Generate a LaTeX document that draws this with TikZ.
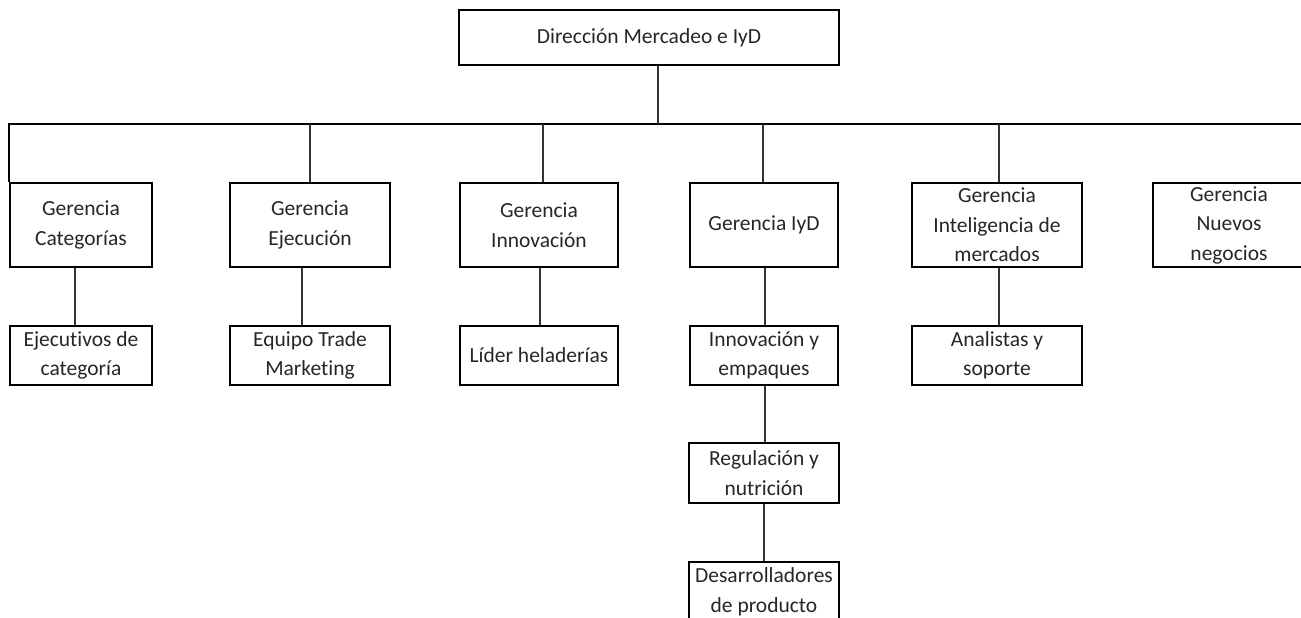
\documentclass[tikz,border=0pt]{standalone}
\usepackage{fontspec}
\setmainfont{Carlito}[Ligatures={NoCommon}]
\begin{document}
\begin{tikzpicture}[x=1pt,y=-1pt,
  box/.style={draw=black, line width=2.2pt, rectangle, inner sep=0pt, align=center,
              font=\fontsize{21.5}{29.5}\selectfont, text=black!85},
  conn/.style={line width=1.4pt, draw=black!80},
  bus/.style={line width=2.8pt, draw=black}]
\useasboundingbox (0,0) rectangle (1301,618);
\clip (0,0) rectangle (1301,618);

% top
\node[box, minimum width=380pt, minimum height=55pt] (top) at (649,37.5) {Direcci\'on Mercadeo e IyD};

% level 1
\node[box, minimum width=142pt, minimum height=84pt] (g1) at (81,225) {Gerencia\\Categor\'ias};
\node[box, minimum width=160pt, minimum height=84pt] (g2) at (310,225) {Gerencia\\Ejecuci\'on};
\node[box, minimum width=158pt, minimum height=84pt] (g3) at (539,225) {Gerencia\\Innovaci\'on};
\node[box, minimum width=148pt, minimum height=84pt] (g4) at (764,225) {Gerencia IyD};
\node[box, minimum width=170pt, minimum height=84pt] (g5) at (997,225) {Gerencia\\Inteligencia de\\mercados};
\node[box, minimum width=152pt, minimum height=84pt] (g6) at (1229,225) {Gerencia\\Nuevos\\negocios};

% level 2
\node[box, minimum width=142pt, minimum height=59pt] (e1) at (81,355.5) {Ejecutivos de\\categor\'ia};
\node[box, minimum width=160pt, minimum height=59pt] (e2) at (310,355.5) {Equipo Trade\\Marketing};
\node[box, minimum width=158pt, minimum height=59pt] (e3) at (539,355.5) {L\'ider helader\'ias};
\node[box, minimum width=148pt, minimum height=59pt] (e4) at (764,355.5) {Innovaci\'on y\\empaques};
\node[box, minimum width=170pt, minimum height=59pt] (e5) at (997,355.5) {Analistas y\\soporte};

% level 3 and 4
\node[box, minimum width=150pt, minimum height=60pt] (r4) at (764,473) {Regulaci\'on y\\nutrici\'on};
\node[box, minimum width=150pt, minimum height=60pt] (d4) at (764,592) {Desarrolladores\\de producto};

% bus
\coordinate (busR) at (1312,124);
\coordinate (j0) at (658,124);
\coordinate (j2) at (310,124);
\coordinate (j3) at (543,124);
\coordinate (j4) at (763,124);
\coordinate (j5) at (999,124);

\draw[bus] (g1.north west) |- (busR);
\draw[conn] (top.south -| j0) -- (j0);
\draw[conn] (j2) -- (j2 |- g2.north);
\draw[conn] (j3) -- (j3 |- g3.north);
\draw[conn] (j4) -- (j4 |- g4.north);
\draw[conn] (j5) -- (j5 |- g5.north);

% children
\draw[conn] ([xshift=-6pt]g1.south) -- ([xshift=-6pt]g1.south |- e1.north);
\draw[conn] ([xshift=-8pt]g2.south) -- ([xshift=-8pt]g2.south |- e2.north);
\draw[conn] ([xshift=1pt]g3.south) -- ([xshift=1pt]g3.south |- e3.north);
\draw[conn] ([xshift=1pt]g4.south) -- ([xshift=1pt]g4.south |- e4.north);
\draw[conn] ([xshift=2pt]g5.south) -- ([xshift=2pt]g5.south |- e5.north);
\draw[conn] ([xshift=1pt]e4.south) -- ([xshift=1pt]e4.south |- r4.north);
\draw[conn] (r4.south) -- (d4.north);
\end{tikzpicture}
\end{document}
